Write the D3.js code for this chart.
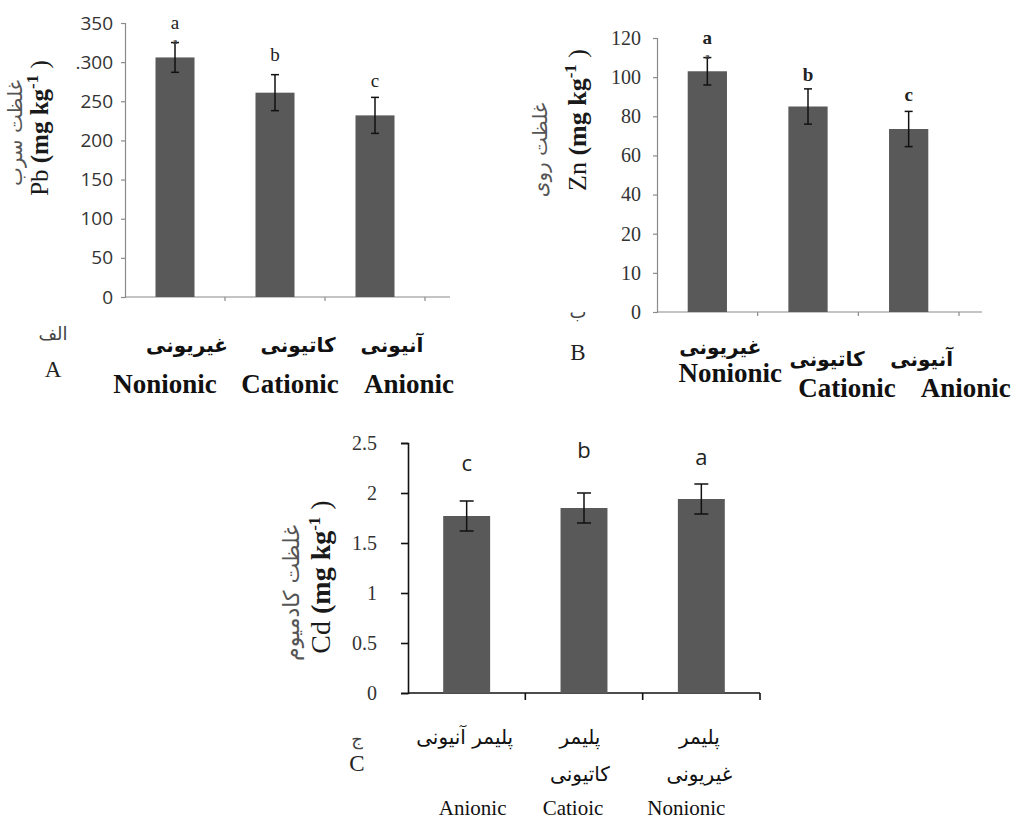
<!DOCTYPE html>
<html>
<head>
<meta charset="utf-8">
<script src="https://cdn.jsdelivr.net/npm/d3@7"></script>
<style>
  body { margin: 0; background: #fff; }
  svg { display: block; }
</style>
</head>
<body>
<svg id="chart" width="1018" height="819"></svg>
<script>
// --- panel A: lead (Pb)
const pbCategories = ["Nonionic", "Cationic", "Anionic"];
const pbLabelsFa = ["غیریونی", "کاتیونی", "آنیونی"];
const pbValues = [306, 261, 232];
const pbErrors = [19, 23, 23];
const pbLetters = ["a", "b", "c"];
const pbTicks = [0, 50, 100, 150, 200, 250, 300, 350];
const pbTickLabels = ["0", "50", "100", "150", "200", "250", ".300", "350"];

// --- panel B: zinc (Zn)
const znCategories = ["Nonionic", "Cationic", "Anionic"];
const znLabelsFa = ["غیریونی", "کاتیونی", "آنیونی"];
const znValues = [103, 85, 73.5];
const znErrors = [7, 9, 9];
const znLetters = ["a", "b", "c"];
const znTicks = [0, 10, 20, 40, 60, 80, 100, 120];

// --- panel C: cadmium (Cd)
const cdCategories = ["Anionic", "Catioic", "Nonionic"];
const cdLabelsFa = ["پلیمر آنیونی", "پلیمر\nکاتیونی", "پلیمر\nغیریونی"];
const cdValues = [1.77, 1.85, 1.94];
const cdErrors = [0.15, 0.15, 0.15];
const cdLetters = ["c", "b", "a"];
const cdTicks = [0, 0.5, 1, 1.5, 2, 2.5];

const svg = d3.select("#chart");
const FA = "'DejaVu Sans', 'Noto Sans', sans-serif";
const SERIF = "'Liberation Serif', 'DejaVu Serif', serif";

function drawPanel(p) {
  const g = svg.append("g");
  const x = d3.scaleBand().domain(p.categories).range(p.xRange);
  const y = p.y;

  // y axis
  const yAxis = d3.axisLeft(y)
    .tickValues(p.ticks)
    .tickFormat((d, i) => p.tickLabels ? p.tickLabels[i] : d)
    .tickSizeOuter(0)
    .tickSize(p.tickLen)
    .tickPadding(p.tickPad);
  const ya = g.append("g")
    .attr("transform", `translate(${p.xRange[0]},0)`)
    .call(yAxis);
  ya.select(".domain").attr("stroke", p.axisColor).attr("stroke-width", p.axisWidth);
  ya.selectAll(".tick line").attr("stroke", p.axisColor).attr("stroke-width", p.axisWidth);
  ya.selectAll(".tick text")
    .attr("fill", p.tickColor)
    .style("font-family", p.tickFont)
    .style("font-size", p.tickSize + "px");

  // x axis line + boundary ticks
  const y0 = y(0);
  g.append("line")
    .attr("x1", p.xRange[0]).attr("x2", p.xRange[1] + p.extend)
    .attr("y1", y0).attr("y2", y0)
    .attr("stroke", p.axisColor).attr("stroke-width", p.axisWidth);
  g.selectAll(".xtick")
    .data(p.categories)
    .join("line")
    .attr("x1", d => x(d) + x.bandwidth())
    .attr("x2", d => x(d) + x.bandwidth())
    .attr("y1", y0).attr("y2", y0 + p.tickLen)
    .attr("stroke", p.axisColor).attr("stroke-width", p.axisWidth);

  const bw = x.bandwidth() * p.barFrac;
  const cx = d => x(d) + x.bandwidth() / 2;

  // bars
  g.selectAll(".bar")
    .data(p.categories)
    .join("rect")
    .attr("x", d => cx(d) - bw / 2)
    .attr("width", bw)
    .attr("y", (d, i) => y(p.values[i]))
    .attr("height", (d, i) => y0 - y(p.values[i]))
    .attr("fill", "#595959");

  // error bars
  const eb = g.selectAll(".err")
    .data(p.categories)
    .join("g");
  eb.append("line")
    .attr("x1", cx).attr("x2", cx)
    .attr("y1", (d, i) => y(p.values[i] + p.errors[i]))
    .attr("y2", (d, i) => y(p.values[i] - p.errors[i]))
    .attr("stroke", "#111").attr("stroke-width", 1.5);
  [1, -1].forEach(s => {
    eb.append("line")
      .attr("x1", d => cx(d) - p.cap).attr("x2", d => cx(d) + p.cap)
      .attr("y1", (d, i) => y(p.values[i] + s * p.errors[i]))
      .attr("y2", (d, i) => y(p.values[i] + s * p.errors[i]))
      .attr("stroke", "#111").attr("stroke-width", 1.5);
  });

  // significance letters
  g.selectAll(".letter")
    .data(p.categories)
    .join("text")
    .attr("x", cx)
    .attr("y", (d, i) => y(p.values[i] + p.errors[i]) - p.letterGap[i])
    .attr("text-anchor", "middle")
    .attr("fill", "#222")
    .style("font-family", p.letterFont)
    .style("font-size", p.letterSize + "px")
    .style("font-weight", p.letterWeight)
    .text((d, i) => p.letters[i]);

  // faint duplicate "a" sitting on the first error bar in the scan
  if (p.ghost) {
    g.append("text")
      .attr("x", cx(p.categories[0]))
      .attr("y", y(p.values[0] + p.errors[0]) + 1)
      .attr("text-anchor", "middle")
      .attr("fill", "#444")
      .style("font-family", SERIF)
      .style("font-size", "9px")
      .style("font-weight", "bold")
      .text("a");
  }

  // persian category labels
  g.selectAll(".fa")
    .data(p.categories)
    .join("text")
    .attr("x", (d, i) => cx(d) + p.faDx[i])
    .attr("y", (d, i) => p.faY[i])
    .attr("text-anchor", "middle")
    .attr("fill", "#111")
    .style("font-family", FA)
    .style("font-size", p.faSize + "px")
    .style("font-weight", p.faWeight)
    .each(function (d, i) {
      const lines = p.labelsFa[i].split("\n");
      d3.select(this).selectAll("tspan")
        .data(lines)
        .join("tspan")
        .attr("x", cx(d) + p.faDx[i])
        .attr("dy", (l, j) => j === 0 ? 0 : p.faLine)
        .text(l => l);
    });

  // english category labels
  g.selectAll(".en")
    .data(p.categories)
    .join("text")
    .attr("x", (d, i) => cx(d) + p.enDx[i])
    .attr("y", (d, i) => p.enY[i])
    .attr("text-anchor", "middle")
    .attr("fill", "#111")
    .style("font-family", SERIF)
    .style("font-size", p.enSize + "px")
    .style("font-weight", p.enWeight)
    .text(d => d);

  // panel letters
  g.append("text")
    .attr("x", p.tag.x).attr("y", p.tag.yFa)
    .attr("text-anchor", "middle").attr("fill", "#444")
    .style("font-family", FA).style("font-size", "18px")
    .text(p.tag.fa);
  g.append("text")
    .attr("x", p.tag.x).attr("y", p.tag.yEn)
    .attr("text-anchor", "middle").attr("fill", "#222")
    .style("font-family", SERIF).style("font-size", "23px")
    .text(p.tag.en);

  // y titles (rotated)
  g.append("text")
    .attr("transform", `translate(${p.yTitle.faX},${p.yTitle.faY}) rotate(-90)`)
    .attr("text-anchor", "middle").attr("fill", "#555")
    .style("font-family", FA).style("font-size", p.yTitle.faSize + "px")
    .text(p.yTitle.fa);
  const en = g.append("text")
    .attr("transform", `translate(${p.yTitle.enX},${p.yTitle.enY}) rotate(-90)`)
    .attr("text-anchor", "middle").attr("fill", "#1a1a1a")
    .style("font-family", SERIF).style("font-size", p.yTitle.enSize + "px");
  en.append("tspan").text(p.yTitle.sym + " ");
  en.append("tspan").style("font-weight", "bold").text("(mg kg");
  en.append("tspan").attr("dy", -10).style("font-size", "17px").style("font-weight", "bold").text(p.yTitle.sup);
  en.append("tspan").attr("dy", 10).text(" )");
}

// piecewise scale for panel B (tick labels are evenly spaced in the figure)
const znStep = (312 - 38) / (znTicks.length - 1);
const znY = d3.scaleLinear()
  .domain(znTicks)
  .range(znTicks.map((d, i) => 312 - i * znStep));

drawPanel({
  categories: pbCategories, labelsFa: pbLabelsFa, values: pbValues, errors: pbErrors,
  letters: pbLetters, ticks: pbTicks, tickLabels: pbTickLabels,
  xRange: [125, 425], extend: 25,
  y: d3.scaleLinear().domain([0, 350]).range([297, 23]),
  axisColor: "#8a8a8a", axisWidth: 1.2, tickLen: 4, tickPad: 8,
  tickColor: "#333", tickFont: "'Open Sans', sans-serif", tickSize: 19,
  barFrac: 0.39, cap: 4,
  letterGap: [14, 14, 10], letterFont: SERIF, letterSize: 19, letterWeight: "normal", ghost: true,
  faDx: [12, 23, 17], faY: [352, 352, 352], faSize: 20, faWeight: "bold", faLine: 0,
  enDx: [-10, 15, 34], enY: [393, 393, 393], enSize: 27, enWeight: "bold",
  tag: { x: 53, yFa: 340, yEn: 377, fa: "الف", en: "A" },
  yTitle: { faX: 22, faY: 133, faSize: 20, fa: "غلظت سرب",
            enX: 48, enY: 128, enSize: 25, sym: "Pb", sup: "-1" }
});

drawPanel({
  categories: znCategories, labelsFa: znLabelsFa, values: znValues, errors: znErrors,
  letters: znLetters, ticks: znTicks,
  xRange: [657, 959], extend: 23,
  y: znY,
  axisColor: "#8a8a8a", axisWidth: 1.2, tickLen: 4, tickPad: 12,
  tickColor: "#333", tickFont: SERIF, tickSize: 20,
  barFrac: 0.39, cap: 4,
  letterGap: [14, 8, 10], letterFont: SERIF, letterSize: 19, letterWeight: "bold", ghost: true,
  faDx: [13, 19, 13], faY: [354, 366, 366], faSize: 20, faWeight: "bold", faLine: 0,
  enDx: [23, 39, 57], enY: [382, 397, 397], enSize: 27, enWeight: "bold",
  tag: { x: 578, yFa: 318, yEn: 360, fa: "ب", en: "B" },
  yTitle: { faX: 547, faY: 150, faSize: 20, fa: "غلظت روی",
            enX: 586, enY: 120, enSize: 26, sym: "Zn", sup: "-1" }
});

drawPanel({
  categories: cdCategories, labelsFa: cdLabelsFa, values: cdValues, errors: cdErrors,
  letters: cdLetters, ticks: cdTicks,
  xRange: [408, 760], extend: 0,
  y: d3.scaleLinear().domain([0, 2.5]).range([693, 443]),
  axisColor: "#111", axisWidth: 1.6, tickLen: 7, tickPad: 24,
  tickColor: "#333", tickFont: SERIF, tickSize: 20,
  barFrac: 0.4, cap: 7,
  letterGap: [30, 35, 19], letterFont: "'Open Sans', sans-serif", letterSize: 22, letterWeight: "normal", ghost: false,
  faDx: [-2, -4, -2], faY: [744, 744, 744], faSize: 20, faWeight: "normal", faLine: 37,
  enDx: [6, -11, -15], enY: [815, 815, 815], enSize: 21, enWeight: "normal",
  tag: { x: 357, yFa: 745, yEn: 771, fa: "ج", en: "C" },
  yTitle: { faX: 299, faY: 593, faSize: 22, fa: "غلظت کادمیوم",
            enX: 330, enY: 577, enSize: 28, sym: "Cd", sup: "-1" }
});
</script>
</body>
</html>
